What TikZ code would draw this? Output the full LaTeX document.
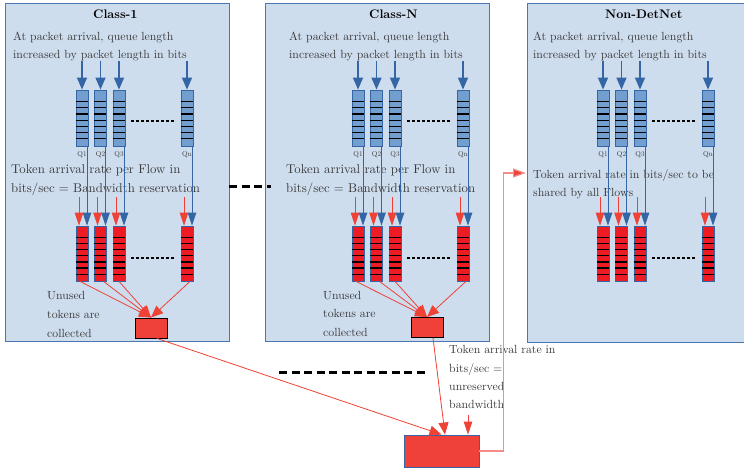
\documentclass[tikz,border=0pt]{standalone}
\usepackage{fontspec}
\setmainfont{lmroman10-regular.otf}[BoldFont=lmroman10-bold.otf, ItalicFont=lmroman10-italic.otf]
\usetikzlibrary{arrows.meta,calc}
\definecolor{panelfill}{RGB}{206,221,238}
\definecolor{panelline}{RGB}{74,119,180}
\definecolor{qblue}{RGB}{114,159,207}
\definecolor{qblueline}{RGB}{52,101,164}
\definecolor{arrblue}{RGB}{52,101,164}
\definecolor{qred}{RGB}{237,28,36}
\definecolor{arrred}{RGB}{239,65,54}
\definecolor{boxred}{RGB}{239,65,58}
\definecolor{linkred}{RGB}{244,140,140}
\definecolor{txtc}{RGB}{58,58,58}
\tikzset{
  panel/.style={draw=panelline, fill=panelfill, line width=0.9pt, inner sep=0},
  topq/.style={draw=qblueline, fill=qblue, minimum width=12pt, minimum height=56pt, inner sep=0, line width=0.8pt},
  redq/.style={draw=qblueline, fill=qred, minimum width=12pt, minimum height=55pt, inner sep=0, line width=0.8pt},
  qline/.style={black, line width=1.2pt},
  bluearr/.style={draw=arrblue, line width=1.4pt, -{Triangle[width=10pt,length=12pt]}},
  bluethin/.style={draw=arrblue, line width=1pt, -{Triangle[width=8.5pt,length=13pt]}},
  redarr/.style={draw=arrred, line width=1pt, -{Triangle[width=8.5pt,length=13pt]}},
  colarr/.style={draw=arrred, line width=0.8pt, -{Triangle[width=10pt,length=12pt]}},
  linkarr/.style={draw=linkred, line width=1.2pt, -{Triangle[width=9pt,length=13pt,fill=arrred]}},
  colbox/.style={draw=black, fill=boxred, line width=0.9pt, minimum width=32pt, minimum height=20pt, inner sep=0},
  bigbox/.style={draw=qblueline, fill=boxred, line width=0.9pt, minimum width=75pt, minimum height=32pt, inner sep=0},
  txt/.style={text=txtc, font=\fontsize{11.8}{14}\selectfont, inner sep=0, anchor=base west},
  txtbig/.style={text=txtc, font=\fontsize{12.8}{15}\selectfont, inner sep=0, anchor=base west},
  ttl/.style={text=black, font=\fontsize{12.4}{14}\selectfont\bfseries, inner sep=0, anchor=base west},
  qlab/.style={text=txtc, font=\fontsize{7.2}{9}\selectfont, inner sep=0, anchor=base},
  rowdash/.style={black, line width=1.2pt, dash pattern=on 3pt off 2pt},
  bigdash/.style={black, line width=3pt, dash pattern=on 8pt off 4.5pt}
}
\newcommand\qpanel[2]{%
  \foreach \qx/\qn in {76/1,94.5/2,113/3,181/n}{%
    \node[topq] (#1t\qn) at ({#2+\qx+6},118) {};
    \foreach \k in {0,...,6} \draw[qline] ($(#1t\qn.north west)+(0,12+6.2*\k)$) -- ++(12,0);
    \node[redq] (#1r\qn) at ({#2+\qx+6},253.5) {};
    \foreach \k in {0,...,6} \draw[qline] ($(#1r\qn.north west)+(0,12+6.1*\k)$) -- ++(12,0);
    \coordinate (#1ta\qn) at ({#2+\qx+6},61);
    \draw[bluearr] (#1ta\qn) -- (#1t\qn.north);
    \draw[bluethin] ($(#1t\qn.south)+(5,0)$) -- ($(#1r\qn.north)+(5,0)$);
    \coordinate (#1ra\qn) at ({#2+\qx+3},197);
    \draw[redarr] (#1ra\qn) -- (#1ra\qn |- #1r\qn.north);
    \node[qlab] (#1l\qn) at ({#2+\qx+6},157) {Q\qn};
  }%
  \coordinate (#1da) at ({#2+131},121);
  \coordinate (#1db) at ({#2+174},121);
  \draw[rowdash] (#1da) -- (#1db);
  \coordinate (#1dc) at ({#2+131},258);
  \coordinate (#1dd) at ({#2+174},258);
  \draw[rowdash] (#1dc) -- (#1dd);
}
\newcommand\colarrows[1]{%
  \draw[colarr] ($(#1r1.south)+(-2,0)$) -- (#1col.north);
  \draw[colarr] ($(#1r2.south)+(3,0)$) -- (#1col.north);
  \draw[colarr] (#1r3.south) -- (#1col.north);
  \draw[colarr] ($(#1rn.south)+(3,0)$) -- (#1col.north);
}
\begin{document}
\begin{tikzpicture}[x=1pt,y=-1pt]
\useasboundingbox (0,0) rectangle (744,470);
\clip (0,0) rectangle (744,470);
% panels
\node[panel, minimum width=224pt, minimum height=338pt] (c1p) at (117,172) {};
\node[panel, minimum width=224pt, minimum height=338pt] (cnp) at (377,172) {};
\node[panel, minimum width=224pt, minimum height=339pt] (ndp) at (639,172.5) {};
% titles
\node[ttl] (c1title) at (93,19) {Class-1};
\node[ttl] (cntitle) at (369,19) {Class-N};
\node[ttl] (ndtitle) at (605,19) {Non-DetNet};
% texts
\node[txt] (c1a) at (13,41) {At packet arrival, queue length};
\node[txt] (c1b) at (13,59) {increased by packet length in bits};
\node[txt] (cna) at (289,41) {At packet arrival, queue length};
\node[txt] (cnb) at (289,59) {increased by packet length in bits};
\node[txt] (nda) at (533,41) {At packet arrival, queue length};
\node[txt] (ndb) at (533,59) {increased by packet length in bits};
\node[txtbig] (c1c) at (11,174) {Token arrival rate per Flow in};
\node[txtbig] (c1d) at (11,193) {bits/sec = Bandwidth reservation};
\node[txtbig] (cnc) at (286,174) {Token arrival rate per Flow in};
\node[txtbig] (cnd) at (286,193) {bits/sec = Bandwidth reservation};
\node[txt] (ndc) at (533,179) {Token arrival rate in bits/sec to be};
\node[txt] (ndd) at (533,197) {shared by all Flows};
\node[txt] (c1e) at (47,299) {Unused};
\node[txt] (c1f) at (47,318) {tokens are};
\node[txt] (c1g) at (47,337) {collected};
\node[txt] (cne) at (323,299) {Unused};
\node[txt] (cnf) at (323,317) {tokens are};
\node[txt] (cng) at (323,336) {collected};
% queues
\qpanel{c1}{0}
\qpanel{cn}{276}
\qpanel{nd}{521}
% collectors
\node[colbox] (c1col) at (151,328) {};
\node[colbox] (cncol) at (427,327.5) {};
\colarrows{c1}
\colarrows{cn}
% big box
\node[bigbox] (big) at (441.5,451) {};
\node[txt] (ba) at (449,353) {Token arrival rate in};
\node[txt] (bb) at (449,372) {bits/sec =};
\node[txt] (bc) at (449,390) {unreserved};
\node[txt] (bd) at (449,408) {bandwidth};
\draw[colarr] ($(c1col.south)+(6,0)$) -- ($(big.north)+(0,0)$);
\draw[colarr] ($(cncol.south)+(6,0)$) -- ($(big.north)+(3.5,0)$);
\coordinate (bwin) at (468,415);
\draw[redarr] (bwin) -- (bwin |- big.north);
% link to Non-DetNet
\coordinate (ndin) at (526,173);
\draw[linkarr] (big.east) -- ++(24,0) |- (ndin);
% big dashed lines
\coordinate (d1a) at (229,187);
\coordinate (d1b) at (271,187);
\draw[bigdash] (d1a) -- (d1b);
\coordinate (d2a) at (279,372);
\coordinate (d2b) at (428,372);
\draw[bigdash] (d2a) -- (d2b);
\end{tikzpicture}
\end{document}
